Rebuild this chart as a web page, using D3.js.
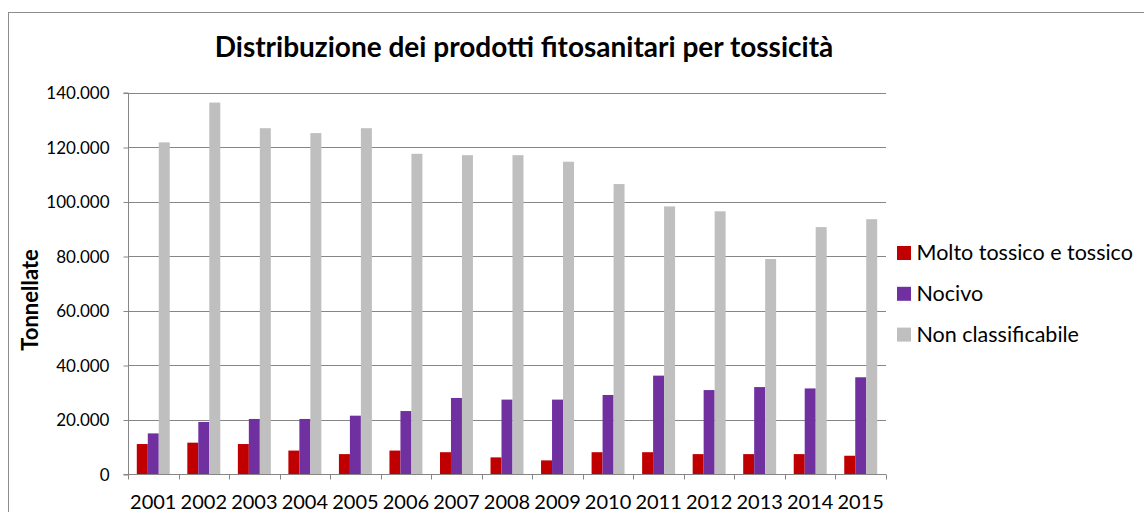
<!DOCTYPE html>
<html>
<head>
<meta charset="utf-8">
<script src="https://cdn.jsdelivr.net/npm/d3@7/dist/d3.min.js"></script>
<style>
  html, body { margin: 0; padding: 0; background: #fff; }
  svg { display: block; }
  text { font-family: Lato, "Open Sans", sans-serif; fill: #000; }
</style>
</head>
<body>
<svg id="chart" width="1144" height="512"></svg>
<script>
// Tonnellate per anno e classe di tossicità
const years = ["2001","2002","2003","2004","2005","2006","2007","2008","2009","2010","2011","2012","2013","2014","2015"];
const seriesNames = ["Molto tossico e tossico", "Nocivo", "Non classificabile"];
const moltoTossico = [11000, 11500, 11000, 8600, 7300, 8600, 8000, 6100, 5000, 8000, 8000, 7300, 7300, 7300, 6700];
const nocivo = [14900, 19100, 20200, 20200, 21400, 23100, 27900, 27300, 27300, 29000, 36100, 30800, 31900, 31400, 35500];
const nonClassificabile = [121700, 136300, 126900, 125100, 126900, 117500, 117000, 117000, 114600, 106400, 98200, 96400, 78900, 90600, 93500];
const yTicks = [0, 20000, 40000, 60000, 80000, 100000, 120000, 140000];
const colors = ["#c00000", "#7030a0", "#bfbfbf"];

const series = [moltoTossico, nocivo, nonClassificabile];
const svg = d3.select("#chart");

// outer chart frame
svg.append("rect")
  .attr("x", 8.5).attr("y", 12.5)
  .attr("width", 1150).attr("height", 520)
  .attr("fill", "none").attr("stroke", "#8c8c8c").attr("stroke-width", 1);

const plot = { left: 128, right: 886, top: 92.5, bottom: 474 };

const x = d3.scaleBand().domain(years).range([plot.left, plot.right]).padding(0);
const y = d3.scaleLinear().domain([0, 140000]).range([plot.bottom, plot.top]);

// bar width: three bars per group, 160% gap between groups
const bw = x.bandwidth() / (3 + 1.6);
const inner = d3.scaleBand().domain(d3.range(3))
  .range([(x.bandwidth() - 3 * bw) / 2, (x.bandwidth() + 3 * bw) / 2]).padding(0);

const fmt = v => d3.format(",")(v).replace(/,/g, ".");

// horizontal gridlines
svg.append("g")
  .selectAll("line").data(yTicks.filter(t => t > 0)).join("line")
  .attr("x1", plot.left).attr("x2", plot.right)
  .attr("y1", d => Math.round(y(d)) + 0.5).attr("y2", d => Math.round(y(d)) + 0.5)
  .attr("stroke", "#868686").attr("stroke-width", 1);

// bars
const groups = svg.append("g").selectAll("g").data(years).join("g")
  .attr("transform", d => `translate(${x(d)},0)`);
groups.selectAll("rect")
  .data((d, i) => series.map((s, k) => ({ k, v: s[i] })))
  .join("rect")
  .attr("x", d => inner(d.k))
  .attr("width", inner.bandwidth())
  .attr("y", d => y(d.v))
  .attr("height", d => y(0) - y(d.v))
  .attr("fill", d => colors[d.k]);

// y axis
const yAxis = svg.append("g")
  .attr("transform", `translate(${plot.left + 0.5},0.5)`)
  .call(d3.axisLeft(y).tickValues(yTicks).tickFormat(fmt).tickSize(5).tickPadding(14));
yAxis.select(".domain").attr("stroke", "#868686").attr("d", `M-5,${plot.top}H0V${plot.bottom}H-5`);
yAxis.selectAll(".tick line").attr("stroke", "#868686");
yAxis.selectAll(".tick text").style("font-size", "17px").attr("font-family", "Lato, sans-serif").attr("dy", "0.34em");

// x axis with ticks between categories
const xAxis = svg.append("g").attr("transform", `translate(0,${Math.round(plot.bottom) + 0.5})`);
xAxis.append("line").attr("x1", plot.left).attr("x2", plot.right)
  .attr("stroke", "#868686");
xAxis.selectAll("line.tk").data(years.concat(["end"])).join("line").attr("class", "tk")
  .attr("x1", (d, i) => Math.round(plot.left + i * x.step()) + 0.5)
  .attr("x2", (d, i) => Math.round(plot.left + i * x.step()) + 0.5)
  .attr("y1", 0).attr("y2", 5).attr("stroke", "#868686");
xAxis.selectAll("text").data(years).join("text")
  .attr("x", d => x(d) + x.bandwidth() / 2)
  .attr("y", 34.5)
  .attr("text-anchor", "middle")
  .style("font-size", "20px")
  .text(d => d);

// title
svg.append("text")
  .attr("x", 524).attr("y", 57)
  .attr("text-anchor", "middle")
  .style("font-size", "28px").style("font-weight", "bold")
  .text("Distribuzione dei prodotti fitosanitari per tossicità");

// y axis title
svg.append("text")
  .attr("transform", "translate(38,300) rotate(-90)")
  .attr("text-anchor", "middle")
  .style("font-size", "22px").style("font-weight", "bold")
  .text("Tonnellate");

// legend
const legend = svg.append("g").selectAll("g").data(seriesNames).join("g")
  .attr("transform", (d, i) => `translate(897,${253 + i * 40.8})`);
legend.append("rect").attr("x", 0).attr("y", -7).attr("width", 14).attr("height", 14)
  .attr("fill", (d, i) => colors[i]);
legend.append("text").attr("x", 19.5).attr("y", 7)
  .style("font-size", "21.5px").text(d => d);
</script>
</body>
</html>
